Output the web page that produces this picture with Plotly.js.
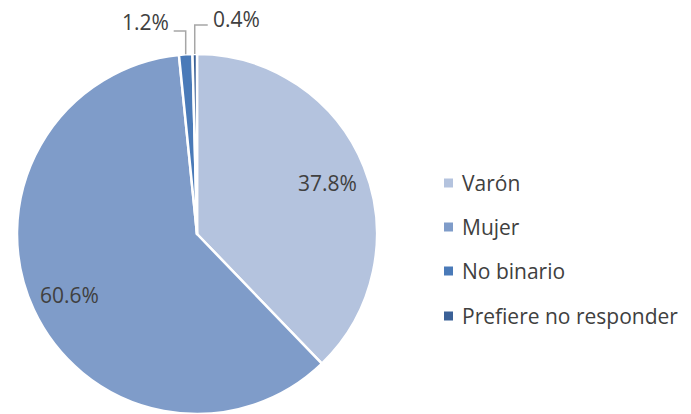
<!DOCTYPE html>
<html><head><meta charset="utf-8">
<script src="https://cdn.plot.ly/plotly-3.0.1.min.js"></script>
<style>html,body{margin:0;padding:0;background:#fff}#chart{width:691px;height:414px}</style>
</head><body><div id="chart"></div>
<script>
const labels = ["Varón", "Mujer", "No binario", "Prefiere no responder"];
const values = [37.8, 60.6, 1.2, 0.4];
const colors = ["#B4C3DE", "#7F9CC9", "#4A7AB8", "#3B6197"];

const W = 691, H = 414;
const cx = 197, cy = 234, R = 180;
const FONT = "Open Sans, Liberation Sans, sans-serif";
const TXT = "#404040";
const FS = 21;
const px = x => x / W, py = y => 1 - y / H;

const total = values.reduce((a, b) => a + b, 0);
let acc = 0;
const mids = values.map(v => { const m = (acc + v / 2) / total * 2 * Math.PI; acc += v; return m; });
const pt = (ang, r) => [cx + r * Math.sin(ang), cy - r * Math.cos(ang)];
const fmt = v => v.toFixed(1) + "%";

const annotations = [];
const shapes = [];
// inside labels for big slices
[0, 1].forEach(i => {
  const [x, y] = pt(mids[i], 0.78 * R);
  annotations.push({x: px(x), y: py(y + 2), xref: "paper", yref: "paper", text: fmt(values[i]),
    showarrow: false, font: {family: FONT, size: FS, color: TXT}, xanchor: "center", yanchor: "middle"});
});
// outside labels with elbow leader lines for small slices
const outside = [{i: 2, elbowY: 31, side: -1, len: 12, labY: 22}, {i: 3, elbowY: 25, side: 1, len: 13, labY: 19}];
outside.forEach(o => {
  const [x0, y0] = pt(mids[o.i], R);
  const x1 = x0 + o.side * o.len;
  shapes.push({type: "path", xref: "paper", yref: "paper",
    path: `M${px(x0)},${py(y0)} L${px(x0)},${py(o.elbowY)} L${px(x1)},${py(o.elbowY)}`,
    line: {color: "#A6A6A6", width: 1.5}});
  annotations.push({x: px(x1 + o.side * 3), y: py(o.labY), xref: "paper", yref: "paper", text: fmt(values[o.i]),
    showarrow: false, font: {family: FONT, size: FS, color: TXT},
    xanchor: o.side < 0 ? "right" : "left", yanchor: "middle"});
});
// legend
const legY = [183, 227, 271, 316];
labels.forEach((l, i) => {
  shapes.push({type: "rect", xref: "paper", yref: "paper",
    x0: px(444), x1: px(453), y0: py(legY[i] - 4.5), y1: py(legY[i] + 4.5),
    fillcolor: colors[i], line: {width: 0}});
  annotations.push({x: px(460), y: py(legY[i]), xref: "paper", yref: "paper", text: l,
    showarrow: false, font: {family: FONT, size: FS, color: TXT}, xanchor: "left", yanchor: "middle"});
});

const trace = {
  type: "pie", labels: labels, values: values, sort: false, direction: "clockwise", rotation: 0,
  marker: {colors: colors, line: {color: "#ffffff", width: 2.5}},
  textinfo: "none", hoverinfo: "label+percent", showlegend: false,
  domain: {x: [px(cx - R), px(cx + R)], y: [py(cy + R), py(cy - R)]}
};

Plotly.newPlot("chart", [trace], {
  width: W, height: H, margin: {l: 0, r: 0, t: 0, b: 0},
  paper_bgcolor: "#fff", plot_bgcolor: "#fff", showlegend: false,
  annotations: annotations, shapes: shapes
}, {displayModeBar: false, staticPlot: true});
</script></body></html>
